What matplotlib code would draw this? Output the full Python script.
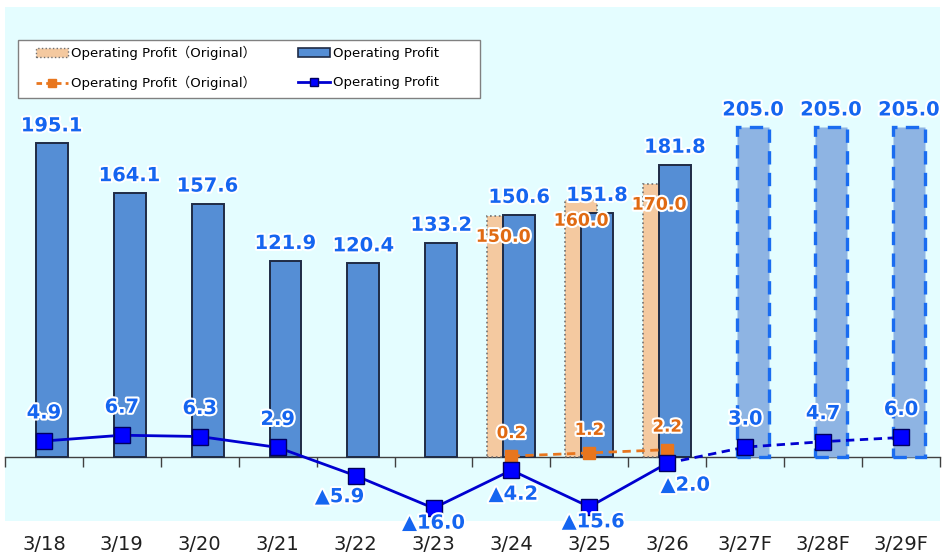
import matplotlib
matplotlib.use("Agg")
import matplotlib.pyplot as plt
from matplotlib.patches import Patch, Rectangle
from matplotlib.lines import Line2D
import matplotlib.patheffects as pe

plt.rcParams['font.family'] = ['DejaVu Sans', 'Noto Sans CJK JP']

# ---- data ----
categories = ["3/18", "3/19", "3/20", "3/21", "3/22", "3/23", "3/24", "3/25", "3/26", "3/27F", "3/28F", "3/29F"]
op_profit = [195.1, 164.1, 157.6, 121.9, 120.4, 133.2, 150.6, 151.8, 181.8, 205.0, 205.0, 205.0]
is_forecast = [False] * 9 + [True] * 3
orig_idx = [6, 7, 8]
orig_profit = [150.0, 160.0, 170.0]
op_change = [4.9, 6.7, 6.3, 2.9, -5.9, -16.0, -4.2, -15.6, -2.0, 3.0, 4.7, 6.0]
orig_change = [0.2, 1.2, 2.2]
legend_labels = ["Operating Profit（Original）", "Operating Profit"]

# ---- style ----
BG = '#E4FDFF'
BLUE_BAR = '#558ED5'
BLUE_EDGE = '#1F2B45'
FC_FACE = '#8EB4E3'
FC_EDGE = '#1A6CF0'
ORIG_FACE = '#F4C9A0'
ORIG_EDGE = '#707070'
LINE_BLUE = '#0000D0'
MARK_BLUE = '#0000FF'
ORANGE = '#E8761E'
LBL_BLUE = '#1565F0'
LBL_ORANGE = '#E06A12'
halo = [pe.withStroke(linewidth=3, foreground='white')]

FW, FH = 942, 555
fig = plt.figure(figsize=(FW / 100, FH / 100), dpi=100)
ax = fig.add_axes([5 / FW, 1 - 521 / FH, 935 / FW, 514 / FH])
ax.set_facecolor(BG)
for s in ax.spines.values():
    s.set_visible(False)

n = len(categories)
xs = list(range(n))
W = 0.41
BO = 0.10
OO = -0.105

# original bars (behind)
orig_x = [i + OO for i in orig_idx]
ax.bar(orig_x, orig_profit, width=W, color=ORIG_FACE, edgecolor=ORIG_EDGE,
       linestyle=':', linewidth=1.2, zorder=2)

# actual bars
act_x = [i + BO for i in xs if not is_forecast[i]]
act_v = [op_profit[i] for i in xs if not is_forecast[i]]
ax.bar(act_x, act_v, width=W, color=BLUE_BAR, edgecolor=BLUE_EDGE, linewidth=1.4, zorder=3)

# forecast bars
fc_x = [i + BO for i in xs if is_forecast[i]]
fc_v = [op_profit[i] for i in xs if is_forecast[i]]
ax.bar(fc_x, fc_v, width=W, color=FC_FACE, edgecolor=FC_EDGE, linestyle=(0, (4, 2.5)),
       linewidth=2.4, zorder=3)

ax.set_xlim(-0.5, n - 0.5)
ax.set_ylim(-40, 280)
ax.set_yticks([])
ax.set_xticks(xs)
ax.set_xticklabels(categories, fontsize=14, color='#202020')
ax.tick_params(axis='x', length=0, pad=10)

# zero axis line with boundary ticks
sec = ax.secondary_xaxis(40 / 320)
sec.spines['bottom'].set_color('#404040')
sec.spines['bottom'].set_linewidth(1.0)
sec.set_xticks([i - 0.5 for i in range(n + 1)])
sec.set_xticklabels([])
sec.tick_params(axis='x', length=7, width=1.0, color='#404040', direction='out')

# bar labels
for i, v in enumerate(op_profit):
    ax.annotate(f"{v:.1f}", (i + BO, v), xytext=(0, 12), textcoords='offset pixels',
                ha='center', va='baseline', fontsize=14, fontweight='bold',
                color=LBL_BLUE, path_effects=halo, zorder=6)
for x, v in zip(orig_x, orig_profit):
    ax.annotate(f"{v:.1f}", (x, v), xytext=(0, -21), textcoords='offset pixels',
                ha='center', va='center', fontsize=12.5, fontweight='bold',
                color=LBL_ORANGE, path_effects=halo, zorder=6)

# line axis
ax2 = ax.twinx()
ax2.set_ylim(-20, 140)
ax2.set_yticks([])
for s in ax2.spines.values():
    s.set_visible(False)

solid_n = 9
ax2.plot(xs[:solid_n], op_change[:solid_n], color=LINE_BLUE, linewidth=2, zorder=4)
ax2.plot(xs[solid_n - 1:], op_change[solid_n - 1:], color=LINE_BLUE, linewidth=2,
         linestyle=(0, (3, 2)), zorder=4)
ax2.plot(xs, op_change, linestyle='none', marker='s', markersize=12,
         markerfacecolor=MARK_BLUE, markeredgecolor='#000060', markeredgewidth=1, zorder=5)

ax2.plot(orig_idx, orig_change, color=ORANGE, linewidth=2, linestyle=(0, (3, 2)),
         marker='s', markersize=8, markerfacecolor=ORANGE, markeredgecolor=ORANGE, zorder=4)

neg_offsets = {4: (-16, -21), 5: (0, -15), 6: (2, -24), 7: (4, -15), 8: (18, -22)}
for i, v in enumerate(op_change):
    if v >= 0:
        txt = f"{v:.1f}"
        off = (0, 28)
    else:
        txt = f"▲{abs(v):.1f}"
        off = neg_offsets.get(i, (0, -21))
    ax2.annotate(txt, (i, v), xytext=off, textcoords='offset pixels', ha='center',
                 va='center', fontsize=14, fontweight='bold', color=LBL_BLUE,
                 path_effects=halo, zorder=7)
for i, v in zip(orig_idx, orig_change):
    ax2.annotate(f"{v:.1f}", (i, v), xytext=(0, 23), textcoords='offset pixels',
                 ha='center', va='center', fontsize=12, fontweight='bold', color=LBL_ORANGE,
                 path_effects=halo, zorder=7)

# legend: frame drawn separately, entries frameless
frame = Rectangle((18 / FW, 1 - 98 / FH), 462 / FW, 58 / FH, transform=fig.transFigure,
                  facecolor='white', edgecolor='#808080', linewidth=1.0, zorder=9)
fig.patches.append(frame)

handles = [
    Patch(facecolor=ORIG_FACE, edgecolor=ORIG_EDGE, linestyle=':', linewidth=1),
    Line2D([], [], color=ORANGE, linestyle=(0, (2, 1.5)), linewidth=2, marker='s',
           markersize=6, markerfacecolor=ORANGE, markeredgecolor=ORANGE),
    Patch(facecolor=BLUE_BAR, edgecolor=BLUE_EDGE, linewidth=1.2),
    Line2D([], [], color=LINE_BLUE, linewidth=2, marker='s', markersize=6,
           markerfacecolor=MARK_BLUE, markeredgecolor='#000060'),
]
labels = [legend_labels[0], legend_labels[0], legend_labels[1], legend_labels[1]]
leg = fig.legend(handles, labels, ncol=2, loc='upper left',
                 bbox_to_anchor=(36 / FW, 1 - 46 / FH),
                 borderaxespad=0, fontsize=9.5, frameon=False,
                 handlelength=2.4, handleheight=0.6, handletextpad=0.25,
                 labelspacing=1.2, borderpad=0, columnspacing=3.2)
leg.set_zorder(10)

fig.savefig("out.png", dpi=100, facecolor='white')
